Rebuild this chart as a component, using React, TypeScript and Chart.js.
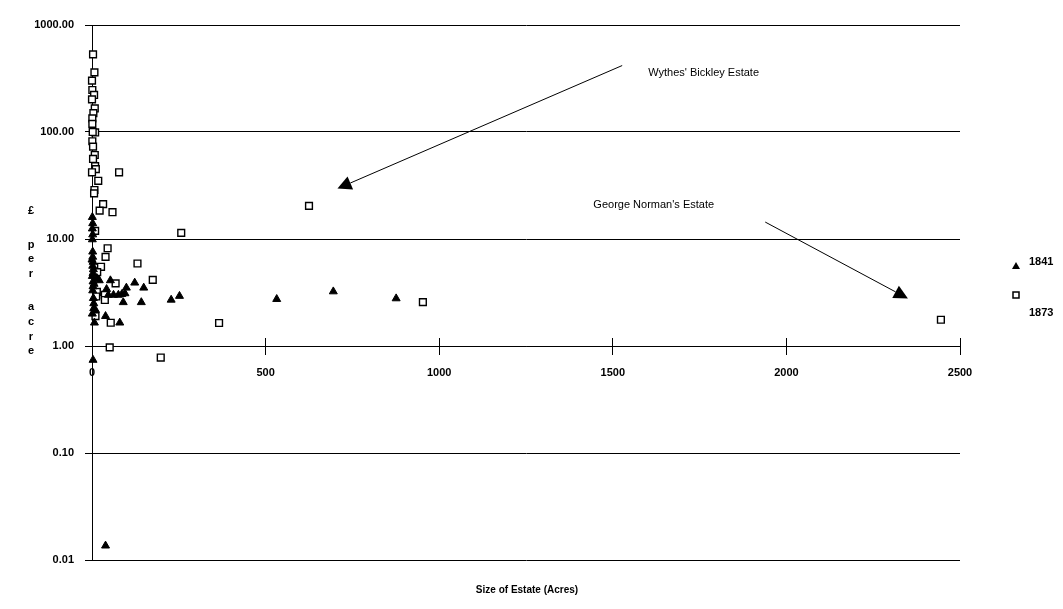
import React, { useEffect, useRef } from 'react';
import { Chart, registerables } from 'chart.js';

Chart.register(...registerables);

// ---- Data ----
const seriesLabels = ['1841', '1873'];

const acres1841 = [1, 2, 1, 2, 1, 2, 2, 0, 3, 2, 4, 3, 1, 14, 21, 3, 3, 6, 2, 4, 53, 42, 99, 123, 149, 47, 62, 76, 86, 95, 90, 142, 228, 252, 532, 695, 876, 5, 5, 10, 1, 39, 80, 7, 3, 39];
const price1841 = [16, 14, 12.5, 11, 9.9, 7.6, 6.8, 6.4, 6.1, 5.6, 5.2, 4.8, 4.5, 4.3, 4.1, 3.6, 4.0, 3.8, 3.3, 2.8, 4.1, 3.4, 3.5, 3.9, 3.5, 3.0, 3.0, 3.0, 3.05, 3.1, 2.56, 2.56, 2.7, 2.93, 2.74, 3.23, 2.78, 2.5, 2.25, 2.17, 2.0, 1.9, 1.65, 1.65, 0.74, 0.0136];

const acres1873 = [3, 7, 0, 1, 6, 0, 8, 4, 1, 1, 9, 2, 1, 3, 8, 3, 9, 11, 0, 78, 18, 7, 6, 32, 22, 59, 9, 257, 45, 39, 26, 131, 15, 175, 68, 14, 12, 37, 37, 10, 54, 366, 51, 198, 625, 953, 2445];
const price1873 = [532, 361, 302, 247, 222, 202, 166, 150, 134, 119, 99, 100, 82, 73, 61, 56, 48, 45, 42, 42, 35, 28.7, 26.7, 21.2, 18.4, 17.8, 11.9, 11.4, 8.2, 6.8, 5.5, 5.9, 4.9, 4.15, 3.85, 3.2, 2.9, 3.0, 2.69, 1.9, 1.65, 1.64, 0.97, 0.78, 20.4, 2.57, 1.76];

const yTickValues = [0.01, 0.1, 1, 10, 100, 1000];
const xTickValues = [0, 500, 1000, 1500, 2000, 2500];

const xTitle = 'Size of Estate (Acres)';
const yTitle = '£ per acre';

// annotation arrows in data coordinates: [acres, £ per acre]
const annotationTexts = ["Wythes' Bickley Estate", "George Norman's Estate"];
const annotationTextAt: [number, number][] = [[1602, 357], [1444, 20.6]];
const annotationFrom: [number, number][] = [[1527, 418], [1939, 14.4]];
const annotationTo: [number, number][] = [[707, 29.6], [2350, 2.78]];

const FONT = '"Liberation Sans", Arial, sans-serif';

const decorPlugin = {
  id: 'decor',
  afterDatasetsDraw(chart: any) {
    const { ctx, scales } = chart;
    const xs = scales.x;
    const ys = scales.y;
    const axisY = ys.getPixelForValue(1);
    ctx.save();
    // upper halves of x tick marks (crossing the axis)
    ctx.strokeStyle = '#000';
    ctx.lineWidth = 1;
    xTickValues.forEach((v) => {
      if (v === 0) return;
      const px = Math.round(xs.getPixelForValue(v) - 0.5) + 0.5;
      ctx.beginPath();
      ctx.moveTo(px, axisY - 8);
      ctx.lineTo(px, axisY);
      ctx.stroke();
    });

    // annotations
    ctx.fillStyle = '#000';
    ctx.font = `11px ${FONT}`;
    ctx.textBaseline = 'middle';
    ctx.textAlign = 'left';
    annotationTexts.forEach((t, i) => {
      const tx = xs.getPixelForValue(annotationTextAt[i][0]);
      const ty = ys.getPixelForValue(annotationTextAt[i][1]);
      ctx.fillText(t, tx, ty);
      const x1 = xs.getPixelForValue(annotationFrom[i][0]);
      const y1 = ys.getPixelForValue(annotationFrom[i][1]);
      const x2 = xs.getPixelForValue(annotationTo[i][0]);
      const y2 = ys.getPixelForValue(annotationTo[i][1]);
      const ang = Math.atan2(y2 - y1, x2 - x1);
      const len = 14;
      const half = 7;
      const bx = x2 - len * Math.cos(ang);
      const by = y2 - len * Math.sin(ang);
      ctx.beginPath();
      ctx.moveTo(x1, y1);
      ctx.lineTo(bx, by);
      ctx.stroke();
      ctx.beginPath();
      ctx.moveTo(x2, y2);
      ctx.lineTo(bx + half * Math.sin(ang), by - half * Math.cos(ang));
      ctx.lineTo(bx - half * Math.sin(ang), by + half * Math.cos(ang));
      ctx.closePath();
      ctx.fill();
    });

    // y title, stacked letters
    ctx.font = `bold 11px ${FONT}`;
    ctx.textAlign = 'center';
    const chars = Array.from(yTitle);
    const step = 14.6;
    let yy = 211;
    chars.forEach((c) => {
      if (c === ' ') {
        yy += step * 1.3;
        return;
      }
      ctx.fillText(c, 31, yy);
      yy += step;
    });

    // x title
    ctx.textAlign = 'center';
    ctx.font = `bold 10px ${FONT}`;
    ctx.fillText(xTitle, 527, 590);

    // legend
    ctx.font = `bold 11px ${FONT}`;
    ctx.textAlign = 'left';
    const lx = 1016;
    ctx.beginPath();
    ctx.moveTo(lx, 262);
    ctx.lineTo(lx + 4, 269);
    ctx.lineTo(lx - 4, 269);
    ctx.closePath();
    ctx.fill();
    ctx.fillText(seriesLabels[0], 1029, 262);
    ctx.lineWidth = 1.5;
    ctx.fillStyle = '#fff';
    ctx.fillRect(lx - 3, 292, 6, 6);
    ctx.strokeRect(lx - 3, 292, 6, 6);
    ctx.fillStyle = '#000';
    ctx.fillText(seriesLabels[1], 1029, 313);
    ctx.restore();
  },
};

export default function App() {
  const ref = useRef<HTMLCanvasElement | null>(null);
  useEffect(() => {
    if (!ref.current) return;
    const chart = new Chart(ref.current, {
      type: 'scatter',
      data: {
        datasets: [
          {
            label: seriesLabels[0],
            data: acres1841.map((x, i) => ({ x, y: price1841[i] })),
            pointStyle: 'triangle',
            radius: 4.6,
            backgroundColor: '#000',
            borderColor: '#000',
            borderWidth: 1,
            clip: false,
          },
          {
            label: seriesLabels[1],
            data: acres1873.map((x, i) => ({ x, y: price1873[i] })),
            pointStyle: 'rect',
            radius: 4.8,
            backgroundColor: '#fff',
            borderColor: '#000',
            borderWidth: 1.4,
            clip: false,
          },
        ],
      },
      options: {
        responsive: false,
        maintainAspectRatio: false,
        animation: false,
        events: [],
        layout: { padding: { left: 0, top: 25, right: 103, bottom: 49 } },
        plugins: { legend: { display: false }, tooltip: { enabled: false } },
        scales: {
          x: {
            type: 'linear',
            min: 0,
            max: 2500,
            position: { y: 1 } as any,
            afterBuildTicks: (s: any) => {
              s.ticks = xTickValues.map((v) => ({ value: v }));
            },
            ticks: {
              color: '#000',
              font: { family: FONT, size: 11, weight: 'bold' },
              padding: 12,
              maxRotation: 0,
              autoSkip: false,
              callback: (v: any) => String(v),
            },
            grid: {
              drawOnChartArea: false,
              drawTicks: true,
              tickLength: 8,
              color: '#000',
              lineWidth: 1,
            },
            border: { display: true, color: '#000', width: 1 },
          },
          y: {
            type: 'logarithmic',
            min: 0.01,
            max: 1000,
            position: 'left',
            afterBuildTicks: (s: any) => {
              s.ticks = yTickValues.map((v) => ({ value: v }));
            },
            afterFit: (s: any) => {
              s.width = 92;
            },
            ticks: {
              color: '#000',
              font: { family: FONT, size: 11, weight: 'bold' },
              padding: 11,
              callback: (v: any) => Number(v).toFixed(2),
              autoSkip: false,
            },
            grid: {
              color: '#000',
              lineWidth: 1,
              drawTicks: true,
              tickLength: 7,
            },
            border: { display: true, color: '#000', width: 1 },
          },
        },
      },
      plugins: [decorPlugin],
    });
    return () => chart.destroy();
  }, []);
  return (
    <div style={{ position: 'absolute', left: 0, top: 0, width: 1063, height: 609, background: '#fff' }}>
      <canvas ref={ref} width={1063} height={609} style={{ display: 'block' }} />
    </div>
  );
}
